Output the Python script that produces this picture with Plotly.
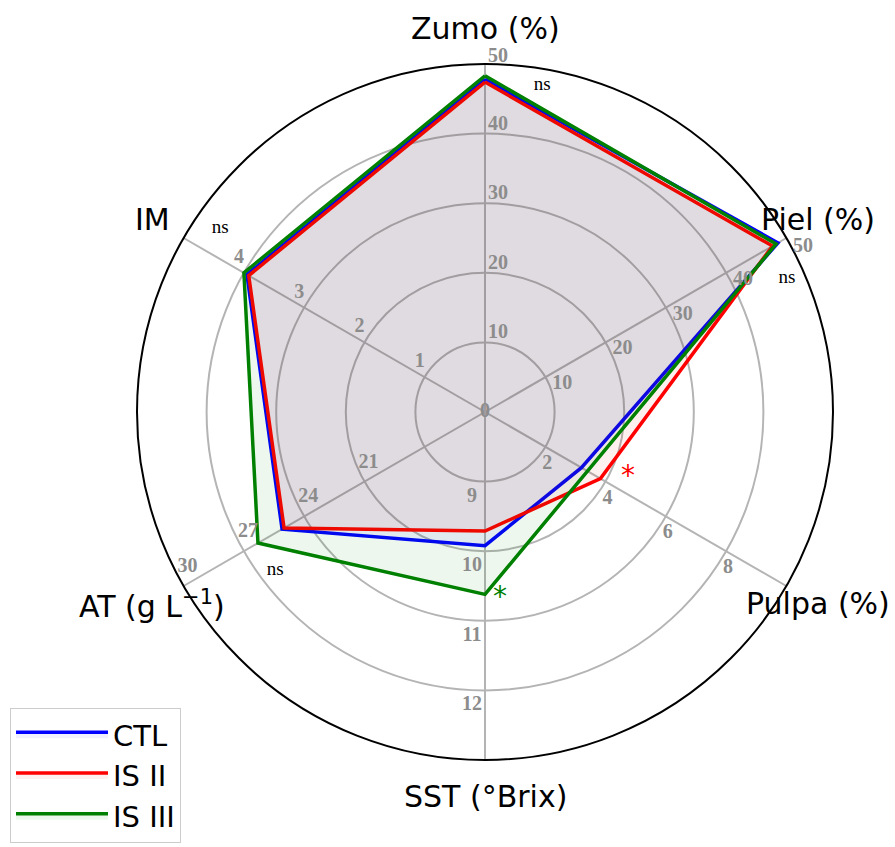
import math
import plotly.graph_objects as go

# Radar axes, clockwise from the top
axes = ["Zumo (%)", "Piel (%)", "Pulpa (%)", "SST (°Brix)", "AT (g L<sup>−1</sup>)", "IM"]
axis_min = [0, 0, 0, 8, 15, 0]
axis_max = [50, 50, 10, 13, 30, 5]

# Tick labels shown along each spoke
axis_ticks = [
    [10, 20, 30, 40, 50],
    [10, 20, 30, 40, 50],
    [2, 4, 6, 8],
    [9, 10, 11, 12],
    [21, 24, 27, 30],
    [1, 2, 3, 4],
]

# Treatments
series_names = ["CTL", "IS II", "IS III"]
ctl = [47.8, 48.6, 3.20, 9.92, 25.1, 3.95]
is_ii = [47.4, 47.7, 3.83, 9.71, 25.0, 3.92]
is_iii = [48.3, 48.3, 3.40, 10.62, 26.3, 4.00]
series_values = [ctl, is_ii, is_iii]
line_colors = ["#0000ff", "#ff0000", "#008000"]
fill_colors = ["rgba(0,0,255,0.06)", "rgba(255,0,0,0.06)", "rgba(0,128,0,0.065)"]

# Significance marks per axis
signif = ["ns", "ns", "*", "*", "ns", "ns"]

# ---- layout constants ----
W, H = 895, 847
CX, CY, R = 485, 412, 348          # centre and outer radius of the radar (px)
spoke_angles = [0, 60, 120, 180, 240, 300]


def norm(v, i):
    return (v - axis_min[i]) / (axis_max[i] - axis_min[i])


def offset_polar(frac, ang, dx, dy):
    """Point at radius `frac` on spoke `ang`, moved by (dx, dy) pixels."""
    x = R * frac * math.sin(math.radians(ang)) + dx
    y = R * frac * math.cos(math.radians(ang)) - dy
    return math.hypot(x, y) / R, math.degrees(math.atan2(x, y))


def to_paper(rr, th):
    x = CX + rr * R * math.sin(math.radians(th))
    y = CY - rr * R * math.cos(math.radians(th))
    return x / W, 1 - y / H


fig = go.Figure()
annotations = []

# polygons
for name, vals, lc, fc in zip(series_names, series_values, line_colors, fill_colors):
    r = [norm(v, i) for i, v in enumerate(vals)]
    fig.add_trace(go.Scatterpolar(
        r=r + r[:1], theta=spoke_angles + spoke_angles[:1],
        mode="lines", name=name, fill="toself", fillcolor=fc,
        line=dict(color=lc, width=3.5),
    ))

tick_font = dict(family="Liberation Serif", size=20, color="#8c8c8c", weight="bold")

# tick labels along each spoke (labels beyond the outer ring go to annotations)
label_offsets = [(13, -9), (17, 7), (2, 17), (-13, 15), (4, -19), (-5, -15)]
tr, tt, tx = [0], [0], ["0"]
for i, ticks in enumerate(axis_ticks):
    dx, dy = label_offsets[i]
    for t in ticks:
        rr, th = offset_polar(norm(t, i), spoke_angles[i], dx, dy)
        if rr <= 1.0:
            tr.append(rr)
            tt.append(th)
            tx.append(str(t))
        else:
            px, py = to_paper(rr, th)
            annotations.append(dict(x=px, y=py, xref="paper", yref="paper",
                                    text=str(t), showarrow=False, font=tick_font,
                                    xanchor="center", yanchor="middle"))
fig.add_trace(go.Scatterpolar(
    r=tr, theta=tt, text=tx, mode="text", showlegend=False, cliponaxis=False,
    textfont=tick_font, hoverinfo="skip",
))

# axis titles outside the outer ring
title_r = 384 / R
for name, ang in zip(axes, spoke_angles):
    px, py = to_paper(title_r, ang)
    annotations.append(dict(x=px, y=py, xref="paper", yref="paper", text=name,
                            showarrow=False, xanchor="center", yanchor="middle",
                            font=dict(family="DejaVu Sans", size=30, color="#000000")))

# significance labels
ns_pos = [(0.954, 9.9), (0.949, 66.1), None, None, (0.755, 233.0), (0.927, 304.8)]
star_pos = [None, None, (0.4526, 114.8), (0.539, 175.4), None, None]
star_colors = [None, None, "#ff0000", "#008000", None, None]
for i, s in enumerate(signif):
    if s == "ns":
        rr, th = ns_pos[i]
        fig.add_trace(go.Scatterpolar(
            r=[rr], theta=[th], text=[s], mode="text", showlegend=False,
            cliponaxis=False, hoverinfo="skip",
            textfont=dict(family="Liberation Serif", size=19, color="#000000"),
        ))
    else:
        rr, th = star_pos[i]
        fig.add_trace(go.Scatterpolar(
            r=[rr], theta=[th], text=[s], mode="text", showlegend=False,
            cliponaxis=False, hoverinfo="skip",
            textfont=dict(family="DejaVu Sans", size=28, color=star_colors[i]),
        ))

fig.update_layout(
    width=W, height=H,
    margin=dict(l=0, r=0, t=0, b=0),
    paper_bgcolor="white",
    annotations=annotations,
    polar=dict(
        domain=dict(x=[(CX - R) / W, (CX + R) / W],
                    y=[(H - CY - R) / H, (H - CY + R) / H]),
        bgcolor="white",
        radialaxis=dict(
            range=[0, 1], tickvals=[0.2, 0.4, 0.6, 0.8], showticklabels=False,
            ticks="", showline=False, gridcolor="#b4b4b4", gridwidth=1.5,
            layer="below traces",
        ),
        angularaxis=dict(
            rotation=90, direction="clockwise", thetaunit="degrees",
            tickmode="array", tickvals=spoke_angles, showticklabels=False,
            ticks="", gridcolor="#b4b4b4", gridwidth=1.5,
            showline=True, linecolor="#000000", linewidth=2,
            layer="below traces",
        ),
    ),
    showlegend=True,
    legend=dict(
        x=10 / W, y=1 - 708 / H, xanchor="left", yanchor="top",
        bgcolor="rgba(255,255,255,0.9)", bordercolor="#cccccc", borderwidth=1,
        itemwidth=92, tracegroupgap=0,
        font=dict(family="DejaVu Sans", size=29, color="#000000"),
    ),
)

fig.write_html("out.html")
